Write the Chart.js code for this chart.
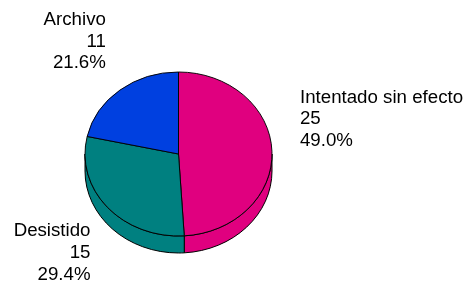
<!DOCTYPE html>
<html>
<head>
<meta charset="utf-8">
<script src="https://cdn.jsdelivr.net/npm/chart.js@4"></script>
<style>
  html, body { margin: 0; padding: 0; background: #fff; }
  canvas { display: block; }
</style>
</head>
<body>
<canvas id="pieChart" width="469" height="283"></canvas>
<script>
// Data
const categories = ['Intentado sin efecto', 'Desistido', 'Archivo'];
const counts = [25, 15, 11];
const percents = ['49.0%', '29.4%', '21.6%'];
const sliceColors = ['#E0007F', '#008080', '#0040E0'];

// Layout of the 3D look and the labels
const TILT = 0.877;   // vertical squash of the top face
const DEPTH = 17;     // thickness of the pie
const labelOffsets = [[28, -54, 'left'], [-17, 24, 'right'], [-14, -70, 'right']];
const LINE_H = 21.6;

// Draw side walls, then squash the top face
const pie3d = {
    id: 'pie3d',
    beforeDatasetsDraw(chart) {
        const ctx = chart.ctx;
        const arcs = chart.getDatasetMeta(0).data;
        const cx = arcs[0].x, cy = arcs[0].y, r = arcs[0].outerRadius;
        const ry = r * TILT;

        ctx.save();
        ctx.lineWidth = 1;
        ctx.strokeStyle = '#000';
        arcs.forEach((arc, i) => {
            const a0 = Math.max(arc.startAngle, 0);
            const a1 = Math.min(arc.endAngle, Math.PI);
            if (a1 <= a0) return;
            ctx.beginPath();
            ctx.ellipse(cx, cy, r, ry, 0, a0, a1);
            ctx.ellipse(cx, cy + DEPTH, r, ry, 0, a1, a0, true);
            ctx.closePath();
            ctx.fillStyle = sliceColors[i];
            ctx.fill();
            ctx.stroke();
        });
        ctx.restore();

        ctx.save();
        ctx.translate(cx, cy);
        ctx.scale(1, TILT);
        ctx.translate(-cx, -cy);
    },
    afterDatasetsDraw(chart) {
        const ctx = chart.ctx;
        ctx.restore();

        // Labels: name, count, percent
        const arcs = chart.getDatasetMeta(0).data;
        ctx.save();
        ctx.font = '18.7px "Liberation Sans", Arial, sans-serif';
        ctx.fillStyle = '#000';
        ctx.textBaseline = 'middle';
        arcs.forEach((arc, i) => {
            const mid = (arc.startAngle + arc.endAngle) / 2;
            const ax = arc.x + arc.outerRadius * Math.cos(mid);
            const ay = arc.y + arc.outerRadius * TILT * Math.sin(mid);
            const [dx, dy, align] = labelOffsets[i];
            ctx.textAlign = align;
            const lines = [categories[i], String(counts[i]), percents[i]];
            lines.forEach((t, k) => {
                ctx.fillText(t, ax + dx, ay + dy + k * LINE_H);
            });
        });
        ctx.restore();
    }
};

const ctx = document.getElementById('pieChart').getContext('2d');
new Chart(ctx, {
    type: 'pie',
    data: {
        labels: categories,
        datasets: [{
            data: counts,
            backgroundColor: sliceColors,
            borderColor: '#000',
            borderWidth: 1,
            hoverOffset: 0
        }]
    },
    options: {
        responsive: false,
        animation: false,
        radius: 93.5,
        clip: false,
        layout: {
            padding: { left: 80, right: 192, top: 60, bottom: 35 }
        },
        plugins: {
            legend: { display: false },
            tooltip: { enabled: false }
        }
    },
    plugins: [pie3d]
});
</script>
</body>
</html>
